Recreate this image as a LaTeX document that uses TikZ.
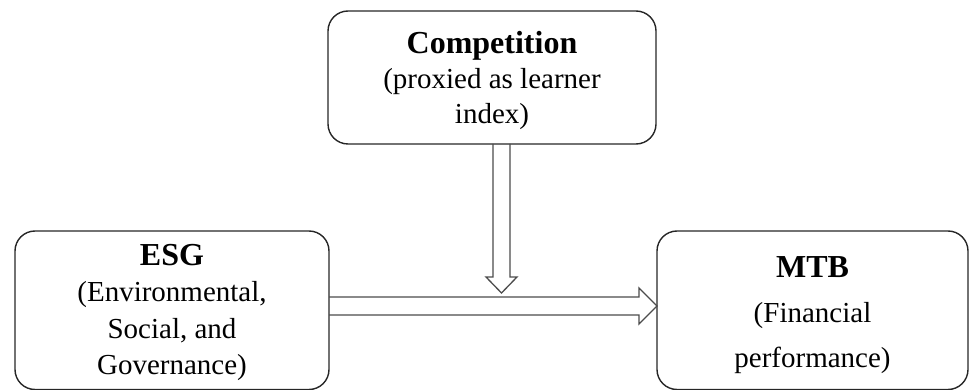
\documentclass[tikz,border=0pt]{standalone}
\usepackage{fontspec}
\setmainfont{Liberation Serif}
\usepackage{tikz}
\usetikzlibrary{positioning,calc}
\begin{document}
\begin{tikzpicture}[x = 1pt, y = -1pt,
  box/.style = {draw = black!85, line width = 1.4pt, rounded corners = 20pt, inner sep = 0pt, outer sep = 0pt, align = center},
  hollow/.style = {draw = black!70, line width = 1.3pt, line join = miter}]
\useasboundingbox (0,0) rectangle (970,390);
\node[box, minimum width = 328pt, minimum height = 133pt, font = \fontsize{29}{35}\selectfont] (comp) at (492,77.5)
  {\rule{0pt}{28pt}{\fontsize{32}{35}\selectfont\bfseries Competition}\\(proxied as learner\\index)};
\node[box, minimum width = 314pt, minimum height = 158.5pt, font = \fontsize{29}{36.5}\selectfont] (esg) at (172,310.25)
  {\rule{0pt}{26pt}{\fontsize{32}{36.5}\selectfont\bfseries ESG}\\(Environmental,\\Social, and\\Governance)};
\node[box, minimum width = 311pt, minimum height = 158.5pt, font = \fontsize{29}{45}\selectfont] (mtb) at (812.5,310.25)
  {\rule{0pt}{30pt}{\fontsize{32}{45}\selectfont\bfseries MTB}\\(Financial\\performance)};
\coordinate (vtip) at (501.5,293);
\coordinate (htip) at (mtb.west |- 0,306);
\draw[hollow] ($(comp.south -| vtip)+(-8.5,0)$) -- ($(vtip)+(-8.5,-16)$) -- ($(vtip)+(-15.5,-16)$) -- (vtip)
  -- ($(vtip)+(15.5,-16)$) -- ($(vtip)+(8.5,-16)$) -- ($(comp.south -| vtip)+(8.5,0)$);
\draw[hollow] ($(esg.east |- htip)+(0,-9)$) -- ($(htip)+(-18,-9)$) -- ($(htip)+(-18,-18)$) -- (htip)
  -- ($(htip)+(-18,18)$) -- ($(htip)+(-18,9)$) -- ($(esg.east |- htip)+(0,9)$);
\end{tikzpicture}
\end{document}
